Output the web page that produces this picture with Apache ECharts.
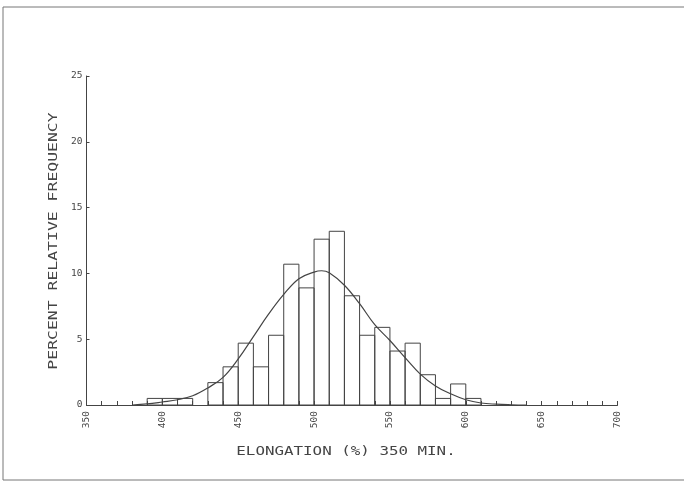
<!DOCTYPE html>
<html>
<head>
<meta charset="utf-8">
<script src="https://cdn.jsdelivr.net/npm/echarts@6/dist/echarts.min.js"></script>
<style>
html,body{margin:0;padding:0;background:#fff;}
#chart{width:684px;height:487px;}
</style>
</head>
<body>
<div id="chart"></div>
<script>
// ---- data ----
const binStarts = [390,400,410,420,430,440,450,460,470,480,490,500,510,520,530,540,550,560,570,580,590,600];
const percent   = [0.5,0.5,0.5,0,1.7,2.9,4.7,2.9,5.3,10.7,8.9,12.6,13.2,8.3,5.3,5.9,4.1,4.7,2.3,0.5,1.6,0.5];
const BIN_WIDTH = 10;
const curveX = [380,390,400,410,420,430,440,450,460,470,480,490,500,505,510,520,530,540,550,560,570,580,590,600,610,620,630,640];
const curveY = [0,0.08,0.23,0.4,0.7,1.3,2.1,3.5,5.2,6.9,8.4,9.6,10.1,10.2,10.05,9.1,7.7,6.1,4.9,3.6,2.35,1.45,0.85,0.4,0.15,0.06,0.02,0];
const xTicks = {min:350, max:700, step:50};
const yTicks = {min:0, max:25, step:5};
const xTitle = 'ELONGATION (%) 350 MIN.';
const yTitle = 'PERCENT RELATIVE FREQUENCY';

const FONT = '"DejaVu Sans Mono", "Liberation Mono", monospace';
const INK = '#444444';

const chart = echarts.init(document.getElementById('chart'), null, {renderer:'canvas'});
const barData = binStarts.map((b,i)=>[b, percent[i]]);
const curveData = curveX.map((x,i)=>[x, curveY[i]]);

chart.setOption({
  backgroundColor:'#ffffff',
  animation:false,
  grid:{left:86.5, right:66.5, top:76, bottom:82},
  xAxis:{
    type:'value', min:xTicks.min, max:xTicks.max, interval:xTicks.step,
    axisLine:{show:true, lineStyle:{color:INK, width:1}},
    axisTick:{show:true, inside:true, length:4, lineStyle:{color:INK}},
    minorTick:{show:true, splitNumber:5, length:4, lineStyle:{color:INK}},
    splitLine:{show:false}, minorSplitLine:{show:false},
    axisLabel:{rotate:90, fontFamily:FONT, fontSize:9.5, color:INK, margin:6, showMinLabel:true, showMaxLabel:true}
  },
  yAxis:{
    type:'value', min:yTicks.min, max:yTicks.max, interval:yTicks.step,
    axisLine:{show:true, lineStyle:{color:INK, width:1}},
    axisTick:{show:true, inside:true, length:3, lineStyle:{color:INK}},
    splitLine:{show:false},
    axisLabel:{fontFamily:FONT, fontSize:9.5, color:INK, margin:4}
  },
  graphic:[
    {type:'rect', shape:{x:3, y:7, width:720, height:473}, style:{fill:'none', stroke:'#777', lineWidth:1}, silent:true},
    {type:'text', x:346, y:452, scaleX:1.32, style:{text:xTitle, font:'12px '+FONT, fill:INK, textAlign:'center', textVerticalAlign:'middle'}},
    {type:'text', x:54, y:241, rotation:Math.PI/2, scaleX:1.37, style:{text:yTitle, font:'12px '+FONT, fill:INK, textAlign:'center', textVerticalAlign:'middle'}}
  ],
  series:[
    {
      type:'custom',
      data:barData,
      encode:{x:0, y:1},
      renderItem:function(params, api){
        const x0 = api.value(0), h = api.value(1);
        if (!h) return null;
        const p0 = api.coord([x0, 0]);
        const p1 = api.coord([x0 + BIN_WIDTH, h]);
        return {type:'rect', shape:{x:p0[0], y:p1[1], width:p1[0]-p0[0], height:p0[1]-p1[1]},
                style:{fill:'none', stroke:INK, lineWidth:1}};
      },
      z:2
    },
    {
      type:'line', data:curveData, smooth:0.4, showSymbol:false,
      lineStyle:{color:INK, width:1.2}, z:3
    }
  ]
});
</script>
</body>
</html>
